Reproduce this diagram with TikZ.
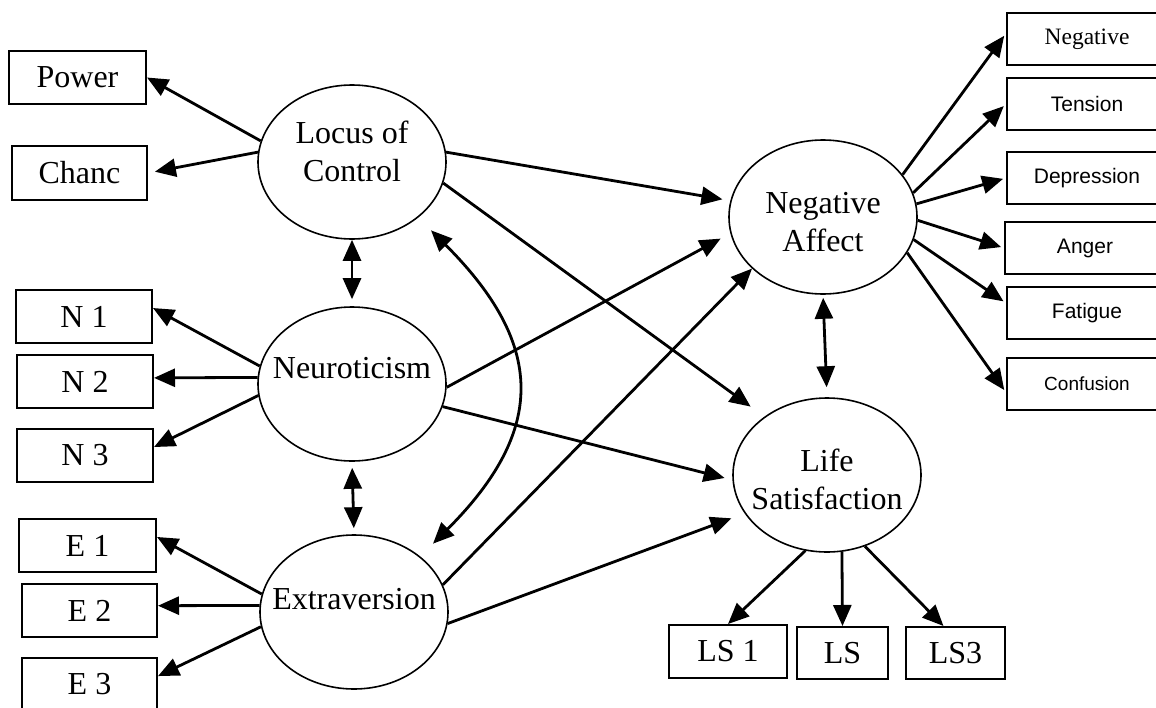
\documentclass[tikz,border=0pt]{standalone}
\usepackage{fontspec}
\setmainfont{Liberation Serif}
\newfontfamily\arialfont{Liberation Sans}
\usetikzlibrary{shapes.geometric,arrows.meta}

\begin{document}
\begin{tikzpicture}[
    x=1pt, y=1pt,
    font=\fontsize{32}{38}\selectfont,
    >={Triangle[length=21pt,width=18pt]},
    latent/.style={
        ellipse,
        draw,
        line width=1.6pt,
        minimum width=188pt,
        minimum height=154pt,
        inner sep=0pt,
    },
    indicator/.style={
        rectangle,
        draw,
        line width=2pt,
        minimum width=136pt,
        minimum height=53pt,
        inner sep=0pt,
    },
    mood/.style={indicator, minimum width=160pt, minimum height=52pt,
        font=\arialfont\fontsize{21}{25}\selectfont},
    causal/.style={->, line width=2.8pt},
    covar/.style={<->, line width=2.8pt}
]
\useasboundingbox (0,0) rectangle (1156,-707);

% latent variables
\node[latent, label={[name=locus_text, align=center, yshift=11pt]center:{Locus of\\Control}}] (locus) at (352,-162) {};
\node[latent, label={[name=neuro_text, yshift=16pt]center:Neuroticism}] (neuro) at (352,-384) {};
\node[latent, label={[name=extra_text, yshift=13pt]center:Extraversion}] (extra) at (354,-612) {};
\node[latent, label={[name=neg_affect_text, align=center, yshift=-5pt]center:{Negative\\Affect}}] (neg_affect) at (823,-217) {};
\node[latent, label={[name=life_sat_text, align=center, yshift=-4pt]center:{Life\\Satisfaction}}] (life_sat) at (827,-475) {};

% indicators, left
\node[indicator, minimum width=137pt] (power) at (77.5,-77.5) {Power};
\node[indicator, minimum width=135pt, minimum height=54pt] (chance) at (79.5,-173) {Chanc};
\node[indicator] (n1) at (84,-316.5) {N 1};
\node[indicator] (n2) at (85,-381.5) {N 2};
\node[indicator] (n3) at (85,-455.5) {N 3};
\node[indicator, minimum width=137pt] (e1) at (87.5,-545.5) {E 1};
\node[indicator, minimum width=135pt] (e2) at (89.5,-610.5) {E 2};
\node[indicator, minimum width=135pt] (e3) at (89.5,-684.5) {E 3};

% indicators, right
\node[mood, font=\fontsize{23.5}{28}\selectfont] (negative) at (1087,-39) {Negative};
\node[mood] (tension) at (1087,-104) {Tension};
\node[mood] (depression) at (1087,-178) {Depression};
\node[mood] (anger) at (1085,-248) {Anger};
\node[mood] (fatigue) at (1087,-313) {Fatigue};
\node[mood, font=\arialfont\fontsize{19}{23}\selectfont] (confusion) at (1087,-384) {Confusion};

% indicators, bottom
\node[indicator, minimum width=118pt] (ls1) at (728,-651.5) {LS 1};
\node[indicator, minimum width=91pt, minimum height=52pt] (ls2) at (842.5,-653) {LS};
\node[indicator, minimum width=99pt, minimum height=52pt] (ls3) at (955.5,-653) {LS3};

\draw[causal] (locus.167) -- (power.east);
\draw[causal, shorten >=7pt] (locus.174) -- (chance.east);
\draw[causal] (neuro.169) -- (n1.7);
\draw[causal] (neuro.176) -- (n2.3);
\draw[causal] (neuro.187) -- (n3.7);
\draw[causal] (extra.169) -- (e1.7);
\draw[causal] (extra.176) -- (e2.4);
\draw[causal] (extra.189) -- (e3.7);

\draw[causal, shorten >=3pt] (neg_affect.28) -- (negative.176);
\draw[causal, shorten >=3pt] (neg_affect.15) -- (tension.west);
\draw[causal, shorten >=3pt] (neg_affect.8) -- (depression.west);
\draw[causal, shorten >=3pt] (neg_affect.-2) -- (anger.west);
\draw[causal, shorten >=3pt] (neg_affect.-14) -- (fatigue.173);
\draw[causal, shorten >=3pt] (neg_affect.-23) -- (confusion.186);

\draw[causal] (life_sat.254) -- (ls1.north);
\draw[causal] (life_sat.281) -- (ls2.north);
\draw[causal] (life_sat.298) -- (ls3.114);

% structural paths
\draw[causal, shorten >=8pt] (locus.6) -- (neg_affect.170);
\draw[causal, shorten >=17pt] (locus.-13) -- (life_sat.137);
\draw[causal, shorten >=11pt] (neuro.-2) -- (neg_affect.190);
\draw[causal, shorten >=8pt] (neuro.-14) -- (life_sat.183);
\draw[causal] (extra.17) -- (neg_affect.216);
\draw[causal, shorten >=14pt] (extra.-7) -- (life_sat.205);

% correlations
\draw[covar, shorten >=7pt] (locus.south) -- (neuro.north);
\draw[covar, shorten <=6pt, shorten >=6pt] (neuro.south) -- (extra.north);
\draw[covar, shorten <=3pt, shorten >=10pt] (neg_affect.south) -- (life_sat.north);
\draw[covar, shorten <=18pt, shorten >=18pt] (locus.-40) to[out=-45, in=45, looseness=1.35] (extra.40);

\end{tikzpicture}
\end{document}
